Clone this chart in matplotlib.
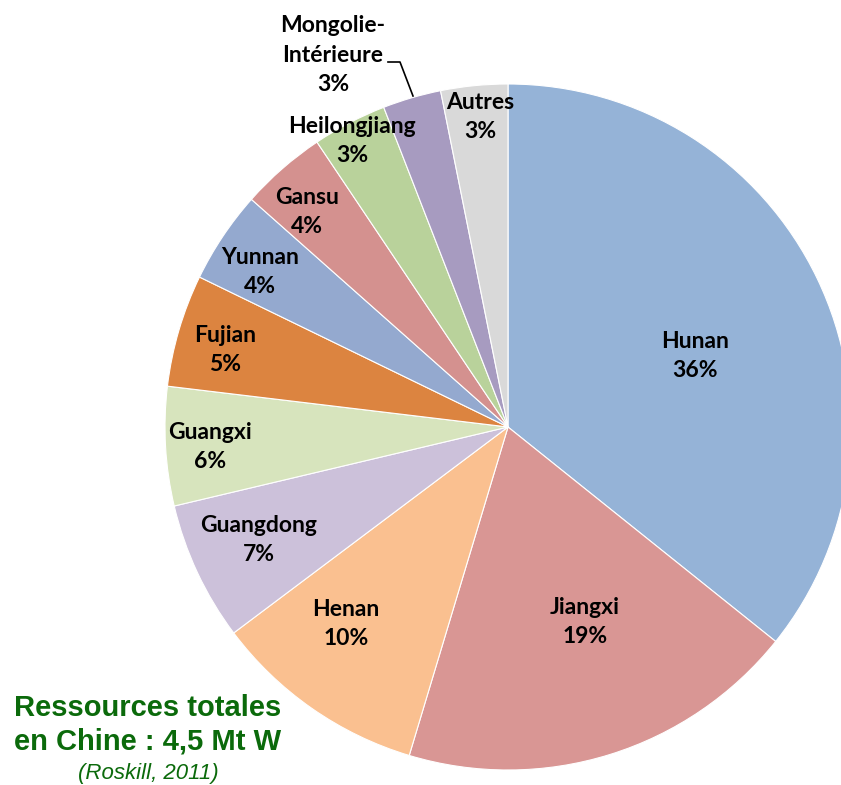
import numpy as np
import matplotlib
matplotlib.use("Agg")
import matplotlib.pyplot as plt

provinces = ["Hunan", "Jiangxi", "Henan", "Guangdong", "Guangxi", "Fujian",
             "Yunnan", "Gansu", "Heilongjiang", "Mongolie-\nIntérieure", "Autres"]
# shares (%)
shares = [35.75, 18.9, 10.1, 6.55, 5.6, 5.3, 4.35, 4.05, 3.5, 2.75, 3.15]
# rounded percentages shown in labels
shown_pct = [36, 19, 10, 7, 6, 5, 4, 4, 3, 3, 3]
colors = ["#95B3D7", "#D99694", "#FAC090", "#CCC1DA", "#D7E4BD", "#DC8440",
          "#94A9CF", "#D4918F", "#B9D29B", "#A79BC0", "#D9D9D9"]

W, H = 841, 785
# label centres in pixel coordinates (top-left origin)
label_xy = [(695, 356), (585, 622), (346, 624), (259, 540), (210, 447), (225, 350),
            (260, 272), (307, 212), (352, 141), (333, 55), (480, 117)]

fig = plt.figure(figsize=(W / 100, H / 100), dpi=100)
ax = fig.add_axes([0, 0, 1, 1])

cx, cy, R = 508, H - 427, 343
wedges, _ = ax.pie(shares, colors=colors, startangle=90, counterclock=False,
                   center=(cx, cy), radius=R,
                   wedgeprops=dict(edgecolor="white", linewidth=0.8))
ax.set_xlim(0, W)
ax.set_ylim(0, H)
ax.axis("off")

lab_font = dict(family=["Lato", "DejaVu Sans"], fontweight="bold", fontsize=16.5,
                color="black", ha="center", va="center", linespacing=1.5)

for name, pct, (px, py) in zip(provinces, shown_pct, label_xy):
    ax.text(px, H - py, f"{name}\n{pct}%", **lab_font)

# leader line for Mongolie-Intérieure
ax.plot([388, 400, 413], [H - 62, H - 62, H - 96], color="black", lw=1.2)

green = "#0B6A0B"
title_font = dict(ha="center", va="center", family=["Liberation Sans", "DejaVu Sans"],
                  fontweight="bold", fontsize=21, color=green)
ax.text(148, H - 708, "Ressources totales", **title_font)
ax.text(148, H - 742, "en Chine : 4,5 Mt W", **title_font)
ax.text(148, H - 773, "(Roskill, 2011)", ha="center", va="center",
        family=["Liberation Sans", "DejaVu Sans"], style="italic", fontsize=16,
        color=green)

fig.savefig("out.png", dpi=100)
